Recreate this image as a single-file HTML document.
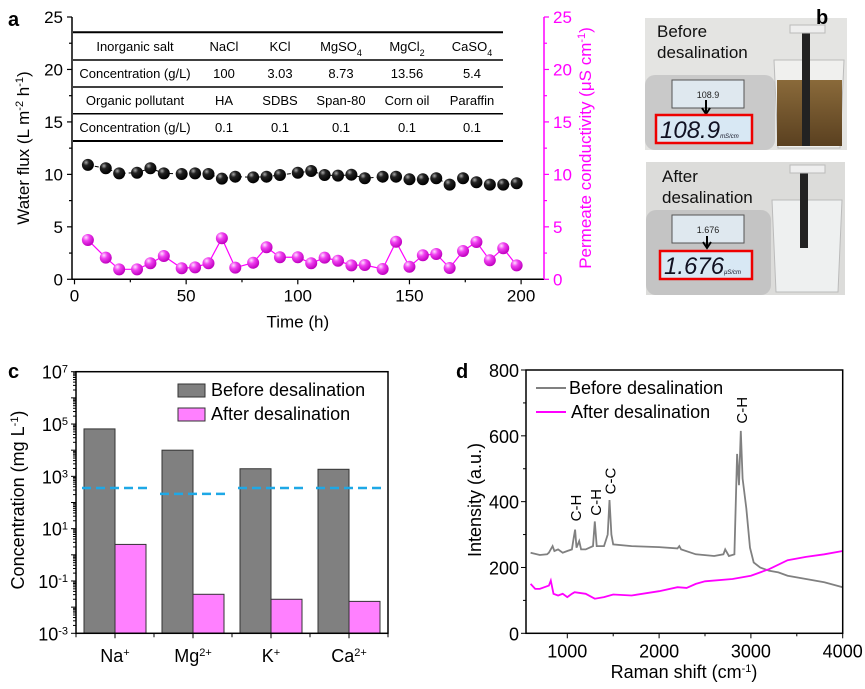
<!DOCTYPE html>
<html><head><meta charset="utf-8"><style>
html,body{margin:0;padding:0;background:#fff;}
svg{display:block;font-family:"Liberation Sans",Arial,sans-serif;}
</style></head><body>
<svg id="fig" width="865" height="689" viewBox="0 0 865 689" xmlns="http://www.w3.org/2000/svg">
<defs>
<radialGradient id="gBlack" cx="0.35" cy="0.3" r="0.7"><stop offset="0" stop-color="#aaa"/><stop offset="0.35" stop-color="#222"/><stop offset="1" stop-color="#000"/></radialGradient>
<radialGradient id="gPink" cx="0.35" cy="0.3" r="0.7"><stop offset="0" stop-color="#ffe0ff"/><stop offset="0.4" stop-color="#f040f0"/><stop offset="1" stop-color="#c000c0"/></radialGradient>
<linearGradient id="brown" x1="0" y1="0" x2="0" y2="1"><stop offset="0" stop-color="#8a6a3a"/><stop offset="1" stop-color="#5a4020"/></linearGradient>
</defs>
<g id="pa"></g>
<g id="pb">
  <g>
    <rect x="645" y="18" width="202" height="132" fill="#e4e4e2"/>
    <rect x="645" y="75" width="130" height="75" rx="10" fill="#c9c9c9"/>
    <rect x="672" y="80" width="72" height="28" fill="#dfe8ef" stroke="#555"/>
    <text x="708" y="98" font-size="9" text-anchor="middle" fill="#222">108.9</text>
    <path d="M706 100 L706 112 M702 108 L706 114 L710 108" stroke="#000" stroke-width="2" fill="none"/>
    <rect x="656" y="115" width="96" height="28" fill="#d8e8f4" stroke="#e00" stroke-width="2.5"/>
    <text x="660" y="138" font-size="24" font-style="italic" fill="#112">108.9<tspan font-size="6">mS/cm</tspan></text>
    <path d="M774 60 L844 60 L840 148 L778 148 Z" fill="#f0f0ee" stroke="#bbb"/>
    <rect x="777" y="80" width="65" height="66" fill="url(#brown)"/>
    <rect x="802" y="28" width="8" height="118" fill="#222"/>
    <rect x="790" y="25" width="35" height="8" fill="#eee" stroke="#bbb"/>
    <text x="657" y="37" font-size="17" fill="#111">Before</text>
    <text x="657" y="58" font-size="17" fill="#111">desalination</text>
  </g>
  <g>
    <rect x="646" y="162" width="199" height="133" fill="#dcdcda"/>
    <rect x="646" y="210" width="125" height="85" rx="10" fill="#c4c4c4"/>
    <rect x="672" y="215" width="72" height="28" fill="#dfe8ef" stroke="#555"/>
    <text x="708" y="233" font-size="9" text-anchor="middle" fill="#222">1.676</text>
    <path d="M707 236 L707 246 M703 242 L707 248 L711 242" stroke="#000" stroke-width="2" fill="none"/>
    <rect x="660" y="251" width="92" height="28" fill="#d8e8f4" stroke="#e00" stroke-width="2.5"/>
    <text x="664" y="274" font-size="24" font-style="italic" fill="#112">1.676<tspan font-size="6">μS/cm</tspan></text>
    <path d="M772 200 L842 200 L838 292 L776 292 Z" fill="#eef0f0" stroke="#bbb"/>
    <rect x="800" y="170" width="8" height="78" fill="#222"/>
    <rect x="790" y="165" width="35" height="8" fill="#eee" stroke="#bbb"/>
    <text x="662" y="182" font-size="17" fill="#111">After</text>
    <text x="662" y="203" font-size="17" fill="#111">desalination</text>
  </g>
  <text x="816" y="24" font-size="20" font-weight="bold">b</text>
</g>
<g id="pc"></g>
<g id="pd"></g>
</svg>
<script>
// ---- Panel a data ----
const aTimes = [6,14,20,28,34,40,48,54,60,66,72,80,86,92,100,106,112,118,124,130,138,144,150,156,162,168,174,180,186,192,198];
const aFlux = [10.9,10.58,10.1,10.16,10.58,10.1,10.04,10.1,10.04,9.59,9.78,9.72,9.78,9.94,10.16,10.32,9.94,9.88,9.97,9.63,9.78,9.78,9.53,9.53,9.63,9.02,9.63,9.25,9.02,9.02,9.15];
const aCond = [3.75,2.06,0.95,0.95,1.53,2.22,1.05,1.14,1.53,3.91,1.11,1.58,3.05,2.1,2.1,1.53,2.06,1.77,1.33,1.36,0.98,3.58,1.2,2.29,2.41,1.08,2.7,3.56,1.81,2.96,1.33];
const aXTicks = [0,50,100,150,200];
const aYTicks = [0,5,10,15,20,25];
const tableRows = [
 ["Inorganic salt","NaCl","KCl","MgSO<tspan baseline-shift='sub' font-size='9'>4</tspan>","MgCl<tspan baseline-shift='sub' font-size='9'>2</tspan>","CaSO<tspan baseline-shift='sub' font-size='9'>4</tspan>"],
 ["Concentration (g/L)","100","3.03","8.73","13.56","5.4"],
 ["Organic pollutant","HA","SDBS","Span-80","Corn oil","Paraffin"],
 ["Concentration (g/L)","0.1","0.1","0.1","0.1","0.1"]];
// ---- Panel c data ----
const cCats = ["Na","Mg","K","Ca"];
const cSup = ["+","2+","+","2+"];
const cBefore = [65000,10000,1950,1860];
const cAfter = [2.5,0.031,0.020,0.0166];
const cLimit = [357,213,357,357];
const cYTicks = [-3,-1,1,3,5,7];
// ---- Panel d data ----
const dBeforeX = [600,700,780,800,840,860,900,950,1000,1050,1070,1085,1100,1130,1150,1200,1280,1300,1320,1400,1440,1460,1480,1500,1700,2000,2200,2220,2240,2400,2600,2700,2720,2760,2820,2850,2870,2890,2910,2950,2990,3030,3100,3200,3300,3400,3600,3800,4000];
const dBeforeY = [245,238,240,245,265,250,255,245,250,255,290,315,260,280,255,255,265,340,265,265,300,405,300,270,265,262,258,265,255,240,235,240,255,235,240,545,450,615,470,380,260,215,200,190,185,175,165,155,140];
const dAfterX = [600,650,700,750,800,820,850,900,950,1000,1050,1080,1200,1300,1400,1500,1700,2000,2200,2300,2400,2500,2800,3000,3200,3400,3600,3800,4000];
const dAfterY = [150,135,135,140,145,160,120,115,120,110,120,125,120,105,110,118,115,128,140,138,150,158,165,175,195,222,232,240,250];
const dXTicks = [1000,2000,3000,4000];
const dYTicks = [0,200,400,600,800];

const NS="http://www.w3.org/2000/svg";
function mk(parent,tag,attrs,text){const e=document.createElementNS(NS,tag);for(const k in attrs)e.setAttribute(k,attrs[k]);if(text!==undefined)e.innerHTML=text;parent.appendChild(e);return e;}

// ===== Panel a =====
(function(){
 const g=document.getElementById('pa');
 const L=72,R=544,T=17,B=279.3;
 const x=t=>74.5+t*2.233, y=v=>B-(B-T)*v/25;
 let e=mk(g,'text',{x:8,y:26,'font-size':20,'font-weight':'bold'},'a');
 
 e=mk(g,'line',{x1:L,y1:T,x2:L,y2:B,stroke:'#000','stroke-width':1.5});
 
 e=mk(g,'line',{x1:L,y1:B,x2:R,y2:B,stroke:'#000','stroke-width':1.5});
 
 e=mk(g,'line',{x1:R,y1:T,x2:R,y2:B,stroke:'#f0f','stroke-width':1.5});
 
 for(let v=0;v<=25;v+=2.5){const maj=v%5===0;
  mk(g,'line',{x1:L,y1:y(v),x2:L-(maj?5:3),y2:y(v),stroke:'#000','stroke-width':1.2});
  mk(g,'line',{x1:R,y1:y(v),x2:R+(maj?5:3),y2:y(v),stroke:'#f0f','stroke-width':1.2});}
 aYTicks.forEach(v=>{
  e=mk(g,'text',{x:L-9,y:y(v)+6,'font-size':17,'text-anchor':'end'},String(v));
  
  e=mk(g,'text',{x:R+9,y:y(v)+6,'font-size':17,fill:'#f0f'},String(v));
  });
 for(let t=0;t<=200;t+=25){mk(g,'line',{x1:x(t),y1:B,x2:x(t),y2:B+(t%50===0?5:3),stroke:'#000','stroke-width':1.2});}
 aXTicks.forEach(t=>{e=mk(g,'text',{x:x(t),y:B+22,'font-size':17,'text-anchor':'middle'},String(t));
  });
 e=mk(g,'text',{x:x(100),y:B+48,'font-size':17,'text-anchor':'middle'},'Time (h)');
 
 e=mk(g,'text',{transform:'translate(29,148) rotate(-90)','font-size':17,'text-anchor':'middle'},"Water flux (L m<tspan baseline-shift='super' font-size='11'>-2</tspan> h<tspan baseline-shift='super' font-size='11'>-1</tspan>)");
 
 e=mk(g,'text',{transform:'translate(591,148) rotate(-90)','font-size':17,'text-anchor':'middle',fill:'#f0f'},"Permeate conductivity (μS cm<tspan baseline-shift='super' font-size='11'>-1</tspan>)");
 
 const lines=[32.3,60,87,113.7,141];
 lines.forEach((ly,i)=>{mk(g,'line',{x1:73,y1:ly,x2:503,y2:ly,stroke:'#000','stroke-width':(i===0||i===4)?2:1.5});});
 const cols=[135,224,280,341,407,472];
 tableRows.forEach((row,r)=>{row.forEach((c,ci)=>{
  e=mk(g,'text',{x:cols[ci],y:[51,78,105,132][r],'font-size':13,'text-anchor':'middle'},c);
  });});
 let d='';aTimes.forEach((t,i)=>{d+=(i?'L':'M')+x(t)+' '+y(aFlux[i]);});
 e=mk(g,'path',{d:d,fill:'none',stroke:'#000','stroke-width':1,'stroke-dasharray':'4 3'});
 
 d='';aTimes.forEach((t,i)=>{d+=(i?'L':'M')+x(t)+' '+y(aCond[i]);});
 e=mk(g,'path',{d:d,fill:'none',stroke:'#f0f','stroke-width':1.2});
 
 aTimes.forEach((t,i)=>{
  e=mk(g,'circle',{cx:x(t),cy:y(aFlux[i]),r:6,fill:'url(#gBlack)'});
  
  e=mk(g,'circle',{cx:x(t),cy:y(aCond[i]),r:6,fill:'url(#gPink)'});
  });
})();

// ===== Panel c =====
(function(){
 const g=document.getElementById('pc');
 const L=76,R=388,T=371.7,B=633.3;
 const y=v=>B-(Math.log10(v)+3)*(B-T)/10;
 const cx=i=>L+39+78*i;
 let e=mk(g,'text',{x:8,y:378,'font-size':20,'font-weight':'bold'},'c');
 
 cCats.forEach((c,i)=>{
  e=mk(g,'rect',{x:cx(i)-31,y:y(cBefore[i]),width:31,height:B-y(cBefore[i]),fill:'#808080',stroke:'#333','stroke-width':1});
  
  e=mk(g,'rect',{x:cx(i),y:y(cAfter[i]),width:31,height:B-y(cAfter[i]),fill:'#ff80ff',stroke:'#333','stroke-width':1});
  
  e=mk(g,'line',{x1:cx(i)-33,y1:y(cLimit[i]),x2:cx(i)+34,y2:y(cLimit[i]),stroke:'#1ea8e6','stroke-width':2.5,'stroke-dasharray':'9 5'});
  
  e=mk(g,'text',{x:cx(i),y:662,'font-size':18,'text-anchor':'middle'},c+"<tspan baseline-shift='super' font-size='11'>"+cSup[i]+"</tspan>");
  
 });
 e=mk(g,'rect',{x:L,y:T,width:R-L,height:B-T,fill:'none',stroke:'#000','stroke-width':1.5});
 
 for(let p=-3;p<7;p++){for(let m=1;m<10;m++){const v=m*Math.pow(10,p);const yy=y(v);
  mk(g,'line',{x1:L,y1:yy,x2:L-(m===1?5:3),y2:yy,stroke:'#000','stroke-width':1});}}
 mk(g,'line',{x1:L,y1:T,x2:L-5,y2:T,stroke:'#000'});
 cYTicks.forEach(p=>{
  e=mk(g,'text',{x:L-8,y:y(Math.pow(10,p))+7,'font-size':18,'text-anchor':'end'},"10<tspan baseline-shift='super' font-size='11'>"+p+"</tspan>");
  });
 for(let i=0;i<=4;i++){mk(g,'line',{x1:L+78*i,y1:B,x2:L+78*i,y2:B+4,stroke:'#000'});}
 cCats.forEach((c,i)=>mk(g,'line',{x1:cx(i),y1:B,x2:cx(i),y2:B+5,stroke:'#000'}));
 e=mk(g,'text',{transform:'translate(24,500) rotate(-90)','font-size':18,'text-anchor':'middle'},"Concentration (mg L<tspan baseline-shift='super' font-size='11'>-1</tspan>)");
 
 e=mk(g,'rect',{x:178,y:384,width:27,height:13,fill:'#808080',stroke:'#333'});
 
 e=mk(g,'text',{x:211,y:396,'font-size':18},'Before desalination');
 
 e=mk(g,'rect',{x:178,y:408,width:27,height:13,fill:'#ff80ff',stroke:'#333'});
 
 e=mk(g,'text',{x:211,y:420,'font-size':18},'After desalination');
 
})();

// ===== Panel d =====
(function(){
 const g=document.getElementById('pd');
 const L=526,R=842.7,T=370,B=633.3;
 const x=v=>R-(4000-v)*0.0918, y=v=>B-v*(B-T)/800;
 let e=mk(g,'text',{x:456,y:378,'font-size':20,'font-weight':'bold'},'d');
 
 let d='';dBeforeX.forEach((w,i)=>{d+=(i?'L':'M')+x(w).toFixed(1)+' '+y(dBeforeY[i]).toFixed(1);});
 e=mk(g,'path',{d:d,fill:'none',stroke:'#808080','stroke-width':1.8});
 
 d='';dAfterX.forEach((w,i)=>{d+=(i?'L':'M')+x(w).toFixed(1)+' '+y(dAfterY[i]).toFixed(1);});
 e=mk(g,'path',{d:d,fill:'none',stroke:'#f0f','stroke-width':1.8});
 
 e=mk(g,'rect',{x:L,y:T,width:R-L,height:B-T,fill:'none',stroke:'#000','stroke-width':1.5});
 
 for(let v=0;v<=800;v+=100){mk(g,'line',{x1:L,y1:y(v),x2:L-(v%200===0?5:3),y2:y(v),stroke:'#000'});}
 for(let w=1000;w<=4000;w+=500){mk(g,'line',{x1:x(w),y1:B,x2:x(w),y2:B+(w%1000===0?5:3),stroke:'#000'});}
 dYTicks.forEach(v=>{e=mk(g,'text',{x:L-7,y:y(v)+7,'font-size':18,'text-anchor':'end'},String(v));
  });
 dXTicks.forEach(w=>{e=mk(g,'text',{x:x(w),y:B+24,'font-size':18,'text-anchor':'middle'},String(w));
  });
 e=mk(g,'text',{x:684,y:678,'font-size':18,'text-anchor':'middle'},"Raman shift (cm<tspan baseline-shift='super' font-size='11'>-1</tspan>)");
 
 e=mk(g,'text',{transform:'translate(481,500) rotate(-90)','font-size':18,'text-anchor':'middle'},'Intensity (a.u.)');
 
 mk(g,'line',{x1:536,y1:388,x2:566,y2:388,stroke:'#808080','stroke-width':2});
 e=mk(g,'text',{x:569,y:394,'font-size':18},'Before desalination');
 
 mk(g,'line',{x1:536,y1:412,x2:566,y2:412,stroke:'#f0f','stroke-width':2});
 e=mk(g,'text',{x:571,y:418,'font-size':18},'After desalination');
 
 [[1085,328,'C-H'],[1300,345,'C-H'],[1460,410,'C-C'],[2890,625,'C-H']].forEach(a=>{
  e=mk(g,'text',{transform:'translate('+(x(a[0])+6)+','+(y(a[1])-4)+') rotate(-90)','font-size':15},a[2]);
  });
})();
</script>
</body></html>
